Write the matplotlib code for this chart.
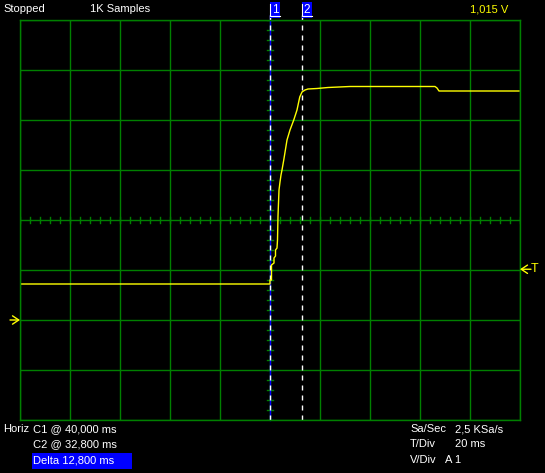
import numpy as np
import matplotlib
matplotlib.use("Agg")
from matplotlib import pyplot as plt

plt.rcParams['font.family'] = ['Liberation Sans', 'DejaVu Sans']
plt.rcParams['lines.scale_dashes'] = False

# trace (ms, V)
t_ms = [-100, 0, 0, 0.6, 0.6, 1.6, 1.6, 2.2, 2.2, 2.8, 3.0, 3.2, 3.6, 4.0, 4.4, 4.8,
        5.5, 6.8, 8.0, 9.5, 10.8, 11.9, 12.8, 14.0, 15.2, 18.8, 23.2, 32, 66, 66.8,
        67.6, 99.6]
volts = [0.72, 0.72, 0.80, 0.80, 1.10, 1.14, 1.24, 1.28, 1.40, 1.44, 1.60, 2.08, 2.60,
         2.76, 2.90, 3.00, 3.20, 3.60, 3.80, 4.00, 4.20, 4.46, 4.56, 4.60, 4.62, 4.63,
         4.65, 4.67, 4.67, 4.64, 4.58, 4.58]

cursor1 = 0.0
cursor2 = 12.8
trig_level = 1.015

top_texts = [("Stopped", 3, "white"), ("1K Samples", 90, "white"), ("1,015 V", 470, "#ffff00")]
left_rows = [("Horiz", "C1 @ 40,000 ms"), ("", "C2 @ 32,800 ms"), ("", "Delta 12,800 ms")]
right_rows = [("Sa/Sec", "2,5 KSa/s"), ("T/Div", "20 ms"), ("V/Div", "A 1")]

W, H = 545, 473
green = "#008000"
yellow = "#ffff00"
blue = "#0000ff"

fig = plt.figure(figsize=(W / 100, H / 100), dpi=100, facecolor="black")
ax = fig.add_axes([20 / W, (H - 420) / H, 500 / W, 400 / H])
ax.set_facecolor("black")
ax.set_xlim(-100, 100)
ax.set_ylim(-2, 6)
for s in ax.spines.values():
    s.set_color(green)
    s.set_linewidth(1)
ax.set_xticks(np.arange(-100, 101, 20))
ax.set_yticks(np.arange(-2, 7, 1))
ax.tick_params(length=0, labelbottom=False, labelleft=False)
ax.grid(True, color=green, linewidth=1)

# minor ticks on the centre cross
for x in np.arange(-100, 101, 4):
    ax.plot([x, x], [1.94, 2.06], color=green, lw=1)
for y in np.arange(-2, 6.01, 0.2):
    ax.plot([-1.2, 1.2], [y, y], color=green, lw=1)

# cursors
ax.plot([cursor1, cursor1], [-2, 6.1], color=blue, lw=1, clip_on=False)
ax.plot([cursor1, cursor1], [-2, 6.1], color="white", lw=1, dashes=(3.6, 3.6), clip_on=False)
ax.plot([cursor2, cursor2], [-2, 6.1], color="white", lw=1, dashes=(3.6, 3.6), clip_on=False)

ax.plot(t_ms, volts, color=yellow, lw=1.0)


def px(x, y):
    return x / W, 1 - y / H


# cursor labels
for lab, xc in (("1", 270), ("2", 302)):
    fig.text(*px(xc + 5, 10), lab, color="white", fontsize=8.5, va="center", ha="center",
             bbox=dict(boxstyle="square,pad=0.15", fc=blue, ec="none"))
    fig.lines.append(plt.Line2D([xc / W, xc / W, (xc + 10) / W], [1 - 4 / H, 1 - 16 / H, 1 - 16 / H],
                                transform=fig.transFigure, color="white", lw=0.8, zorder=5))

for txt, x, c in top_texts:
    fig.text(*px(x, 9), txt, color=c, fontsize=8, va="center")

ys = [429, 444, 460]
for (a, b), y in zip(left_rows, ys):
    fig.text(*px(3, y), a, color="white", fontsize=8, va="center")
    if b.startswith("Delta"):
        fig.patches.append(plt.Rectangle(px(32, 469), 100 / W, 16 / H, transform=fig.transFigure,
                                         fc=blue, ec="none"))
    fig.text(*px(33, y), b, color="white", fontsize=8, va="center")
for (a, b), y in zip(right_rows, ys):
    fig.text(*px(410, y), a, color="white", fontsize=8, va="center")
    fig.text(*px(455 if a != "V/Div" else 445, y), b, color="white", fontsize=8, va="center")

# ground and trigger markers
arrow = dict(arrowstyle="->,head_length=0.45,head_width=0.3", color=yellow, lw=1,
             shrinkA=0, shrinkB=0)
ax.annotate("", xy=(-100, 0), xytext=(-104, 0), xycoords="data", arrowprops=arrow,
            annotation_clip=False)
ax.annotate("", xy=(100, trig_level), xytext=(104.4, trig_level), xycoords="data",
            arrowprops=arrow, annotation_clip=False)
fig.text(*px(531, 269), "T", color=yellow, fontsize=9, va="center")

fig.savefig("out.png", dpi=100, facecolor="black")
